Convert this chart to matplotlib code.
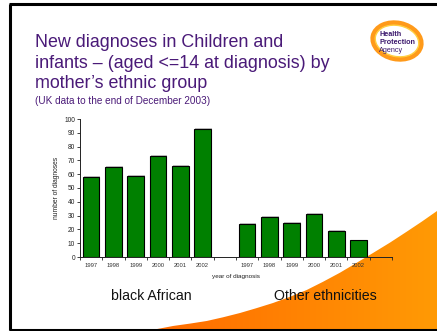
import numpy as np
import matplotlib
matplotlib.use("Agg")
import matplotlib.pyplot as plt
from matplotlib.patches import Polygon, Ellipse
from matplotlib.colors import LinearSegmentedColormap
from matplotlib import patheffects

plt.rcParams['font.family'] = ['Liberation Sans', 'DejaVu Sans']

# Data
years = ["1997", "1998", "1999", "2000", "2001", "2002"]
black_african = [58, 65, 59, 73, 66, 93]
other_ethnicities = [24, 29, 25, 31, 19, 12]
group_names = ["black African", "Other ethnicities"]

W, H = 437, 331
fig = plt.figure(figsize=(W / 100, H / 100), dpi=100)

# Slide background layer in pixel coordinates
bg = fig.add_axes([0, 0, 1, 1], zorder=0)
bg.set_xlim(0, W)
bg.set_ylim(H, 0)
bg.axis("off")

# Orange swoosh in the lower right corner with a horizontal gradient
swoosh_edge = [(146, 331), (160, 328.5), (173, 326), (190, 323.6), (206.7, 321),
               (223, 317.3), (240, 313), (256, 308.3), (273, 303), (290, 296.8),
               (306.7, 290), (323, 281.8), (340, 272.7), (356, 263.2), (373, 253),
               (390, 242.6), (406.7, 231.7), (422, 221.5), (437, 211), (437, 331)]
swoosh = Polygon(swoosh_edge, closed=True, facecolor="none", edgecolor="none")
bg.add_patch(swoosh)
grad = np.linspace(0, 1, 256).reshape(1, -1)
cmap = LinearSegmentedColormap.from_list("sw", ["#ff6a00", "#ff9a05"])
img = bg.imshow(grad, cmap=cmap, extent=[146, 437, 331, 205], aspect="auto",
                zorder=1)
img.set_clip_path(swoosh)
bg.set_xlim(0, W)
bg.set_ylim(H, 0)

# Slide frame lines
bg.plot([9.5, 9.5], [4, 330], color="black", lw=2.2, zorder=5, solid_capstyle="butt")
bg.plot([8.5, 437], [4, 4], color="black", lw=2.2, zorder=5, solid_capstyle="butt")
bg.plot([8.5, 437], [329.7, 329.7], color="black", lw=2.2, zorder=5, solid_capstyle="butt")

# Title block
title_color = "#4a1a78"
bg.text(35, 42.5, "New diagnoses in Children and", fontsize=12.9,
        color=title_color, va="center", ha="left", zorder=6)
bg.text(35, 63.5, "infants \u2013 (aged <=14 at diagnosis) by", fontsize=12.9,
        color=title_color, va="center", ha="left", zorder=6)
bg.text(35, 83.5, "mother\u2019s ethnic group", fontsize=12.9,
        color=title_color, va="center", ha="left", zorder=6)
bg.text(35, 100.5, "(UK data to the end of December 2003)", fontsize=7.2,
        color=title_color, va="center", ha="left", zorder=6)

# Agency logo
bg.add_patch(Ellipse((397, 41), 49, 36, angle=12, facecolor="none",
                     edgecolor="#ff9a1a", lw=3.4, zorder=6))
bg.add_patch(Ellipse((397, 41), 44, 31, angle=12, facecolor="none",
                     edgecolor="#ffcf40", lw=1.0, zorder=6))
logo_color = "#3d1a6e"
bg.text(379, 35, "Health", fontsize=5.2, fontweight="bold", color=logo_color,
        va="center", ha="left", zorder=7)
bg.text(379, 43, "Protection", fontsize=5.2, fontweight="bold", color=logo_color,
        va="center", ha="left", zorder=7)
bg.text(379, 50.5, "Agency", fontsize=5.2, color=logo_color,
        va="center", ha="left", zorder=7)

# Group captions
bg.text(151, 296, group_names[0], fontsize=10.2, color="#111111",
        ha="center", va="center", zorder=6)
bg.text(325.5, 296, group_names[1], fontsize=10.2, color="#111111",
        ha="center", va="center", zorder=6)

# Bar chart
ax = fig.add_axes([80 / W, 1 - 257 / H, (392 - 80) / W, (257 - 119) / H], zorder=2)
ax.patch.set_alpha(0)
n = len(years)
pos_a = np.arange(n)
pos_b = np.arange(n) + n + 1
shadow = [patheffects.SimplePatchShadow(offset=(0.6, 0.6), shadow_rgbFace="#9a9a9a",
                                         alpha=0.6), patheffects.Normal()]
bars_a = ax.bar(pos_a, black_african, width=0.74, color="#008000",
                edgecolor="black", linewidth=0.8, zorder=3)
bars_b = ax.bar(pos_b, other_ethnicities, width=0.74, color="#008000",
                edgecolor="black", linewidth=0.8, zorder=3)
for b in list(bars_a) + list(bars_b):
    b.set_path_effects(shadow)

total = 2 * n + 2
ax.set_xlim(-0.5, total - 0.5)
ax.set_ylim(0, 100)
ax.set_yticks(np.arange(0, 101, 10))
ax.tick_params(axis="y", labelsize=4.8, length=2, width=0.6, pad=1.5,
               colors="#222222", labelcolor="#222222")
ax.set_xticks(np.arange(-0.5, total, 1.0))
ax.set_xticklabels([])
ax.tick_params(axis="x", length=2, width=0.6, colors="#222222")
ax.set_xticks(np.concatenate([pos_a, pos_b]), minor=True)
ax.set_xticklabels(years + years, minor=True)
ax.tick_params(axis="x", which="minor", length=0, labelsize=4.2, pad=4.5,
               labelcolor="#333333")
for s in ["top", "right"]:
    ax.spines[s].set_visible(False)
for s in ["left", "bottom"]:
    ax.spines[s].set_linewidth(0.7)
    ax.spines[s].set_color("#222222")
ax.set_ylabel("number of diagnoses", fontsize=4.8, color="#222222", labelpad=3)
ax.set_xlabel("year of diagnosis", fontsize=4.6, color="#222222", labelpad=4)

fig.savefig("out.png", dpi=100)
